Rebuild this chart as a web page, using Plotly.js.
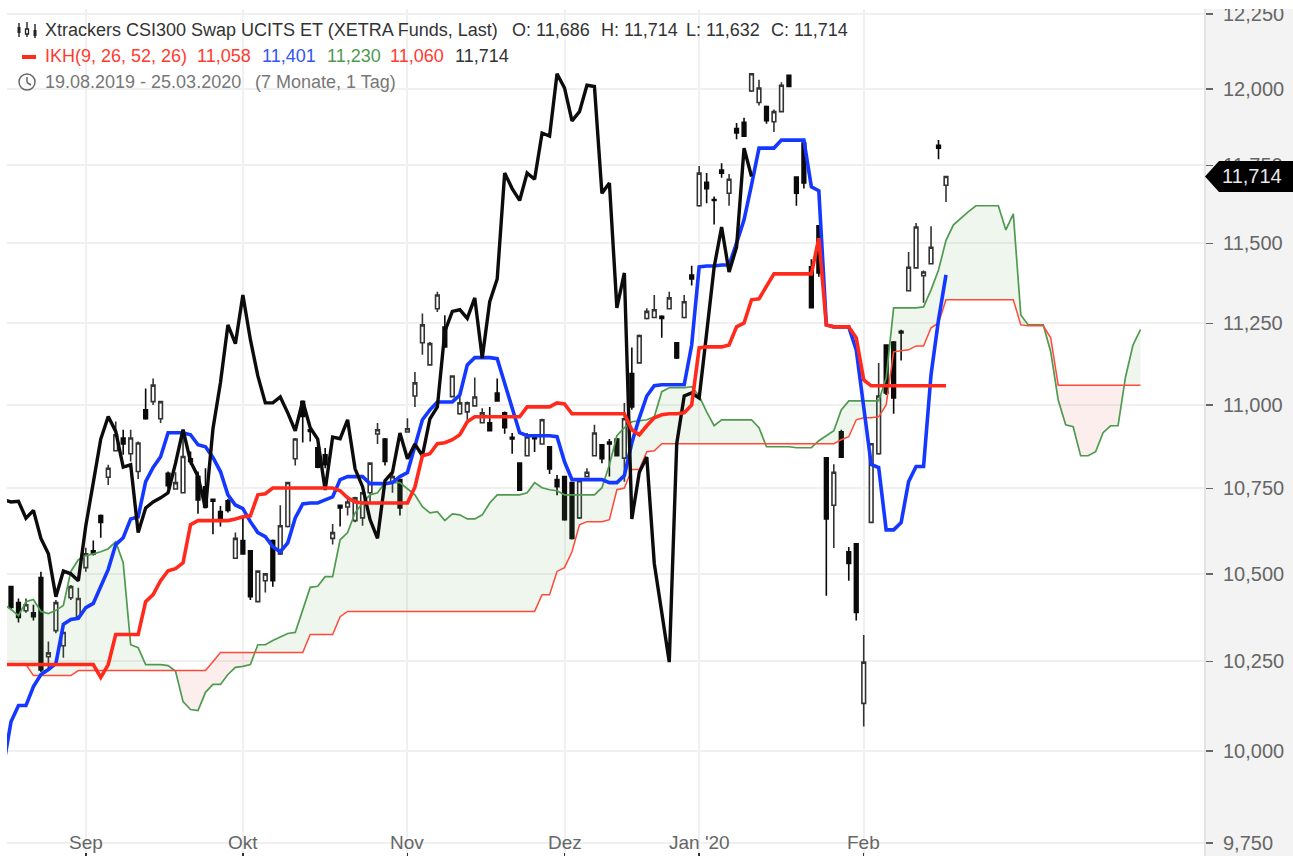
<!DOCTYPE html>
<html><head><meta charset="utf-8">
<script src="https://cdn.plot.ly/plotly-3.0.1.min.js"></script>
<style>html,body{margin:0;padding:0;background:#fff}#c{width:1293px;height:856px}</style>
</head><body><div id="c"></div>
<script>
const tickLabelsX=['Sep','Okt','Nov','Dez',"Jan '20",'Feb'];
const tickPosX=[10,31,53,74,92,114];
const priceTicks=[12250,12000,11750,11500,11250,11000,10750,10500,10250,10000,9750];
const priceLabels=['12,250','12,000','11,750','11,500','11,250','11,000','10,750','10,500','10,250','10,000','9,750'];

const opens=[10463,10417,10394,10388,10489,10263,10337,10294,10431,10377,
10518,10567,10670,10783,10862,10900,10853,10800,10985,11010,
10958,10795,10748,10737,10838,10785,10755,10718,10682,10713,
10545,10597,10567,10420,10480,10597,10558,10638,10838,11010,
10925,10871,10850,10603,10700,10695,10655,10663,10737,10912,
10897,10770,10776,10918,11027,11190,11122,11295,11238,11025,
10973,10979,10997,10946,10946,11036,10976,10902,10825,10847,
10906,10882,10874,10776,10785,10767,10663,10785,10847,10880,
10888,10897,10840,11095,11128,11265,11268,11272,11295,11190,
11268,11400,11620,11695,11640,11735,11660,11870,11890,11993,
11955,11942,11892,11925,12045,11712,11822,11426,11556,10841,
10700,10919,10564,10587,10132,10650,10853,11183,11192,11225,
11351,11423,11398,11436,11815,11686];
const highs=[10465,10429,10429,10411,10506,10306,10425,10335,10468,10460,
10576,10597,10673,10820,10950,10925,10925,10890,11050,11080,
11012,10800,10798,10925,10860,10800,10810,10720,10698,10719,
10620,10668,10567,10510,10502,10600,10700,10770,10900,11012,
10935,10880,10870,10645,10702,10728,10725,10740,10828,10945,
10900,10798,10778,10960,11100,11280,11192,11348,11275,11090,
11030,11010,11083,10990,10994,11080,10980,10915,10825,10915,
10908,10958,10875,10790,10785,10767,10775,10810,10940,10880,
10897,10900,11006,11175,11215,11297,11338,11275,11348,11192,
11338,11430,11748,11725,11650,11757,11722,11888,11905,12052,
12030,11945,11932,12022,12046,11715,11830,11450,11558,10841,
10822,10925,10578,10587,10325,10885,11128,11185,11195,11230,
11473,11565,11415,11555,11832,11714];
const lows=[10395,10360,10388,10366,10220,10226,10330,10260,10425,10372,
10506,10553,10605,10760,10860,10850,10830,10778,10955,11000,
10945,10750,10748,10735,10820,10675,10693,10615,10638,10679,
10545,10558,10425,10418,10446,10463,10555,10635,10818,10887,
10890,10810,10810,10585,10638,10670,10650,10640,10710,10882,
10818,10737,10670,10918,10994,11153,11120,11285,11175,11023,
10970,10955,10997,10945,10922,11012,10913,10853,10742,10845,
10858,10880,10793,10730,10655,10600,10660,10785,10845,10825,
10785,10845,10770,10985,11125,11262,11268,11205,11295,11140,
11265,11368,11617,11628,11560,11710,11620,11835,11843,11990,
11945,11885,11858,11923,12007,11620,11675,11296,11395,10437,
10575,10840,10480,10366,10068,10648,10850,11030,10973,11135,
11350,11422,11314,11434,11770,11632];
const closes=[10403,10375,10411,10377,10226,10274,10417,10332,10463,10429,
10558,10558,10650,10810,10910,10882,10900,10885,10958,11060,
11010,10758,10767,10845,10830,10716,10695,10712,10662,10685,
10603,10558,10434,10508,10500,10480,10640,10767,10897,10965,
10920,10813,10820,10620,10692,10710,10722,10737,10825,10925,
10830,10785,10692,10928,11067,11245,11187,11338,11177,11088,
11006,11006,11024,10976,10922,11012,10931,10897,10745,10903,
10898,10955,10808,10755,10658,10603,10773,10798,10915,10838,
10882,10847,10958,10994,11212,11287,11292,11265,11329,11143,
11317,11388,11725,11675,11637,11725,11705,11855,11845,12050,
12003,11895,11925,12012,12008,11660,11693,11298,11407,10660,
10798,10843,10530,10389,10248,10883,11027,11036,11021,11220,
11425,11552,11410,11488,11806,11714];

// Lagging span, first value belongs to slot -1
const chikou=[10716,10710,10712,10662,10685,10603,10558,10434,10508,10500,10480,
10640,10767,10897,10965,10920,10813,10820,10620,10692,10710,
10722,10737,10825,10925,10830,10785,10692,10928,11067,11245,
11187,11338,11200,11088,11006,11006,11024,10976,10922,11012,
10931,10897,10745,10903,10898,10955,10808,10755,10658,10603,
10773,10798,10915,10838,10882,10847,10958,10994,11225,11287,
11292,11265,11329,11143,11317,11388,11725,11675,11637,11725,
11705,11855,11845,12050,12003,11895,11925,12012,12008,11660,
11693,11298,11407,10660,10798,10843,10530,10389,10248,10883,
11027,11036,11021,11220,11425,11552,11410,11488,11806,11714];
const tenkan=[9961,
10081,10126,10126,10179,10213,10227,10244,10355,10369,10372,
10403,10415,10461,10513,10585,10605,10660,10666,10770,10812,
10844,10916,10916,10916,10910,10880,10874,10842,10800,10731,
10701,10690,10652,10620,10608,10579,10564,10590,10663,10704,
10707,10707,10716,10725,10776,10785,10785,10785,10764,10764,
10764,10767,10785,10797,10880,10955,10985,11009,11009,11009,
11030,11122,11144,11144,11144,11141,11066,10991,10916,10907,
10907,10907,10907,10904,10829,10776,10776,10776,10776,10776,
10767,10767,10788,10886,10961,11027,11058,11061,11061,11061,
11061,11183,11426,11429,11429,11432,11432,11501,11575,11687,
11806,11806,11806,11832,11832,11832,11832,11681,11668,11245,
11239,11239,11239,11168,10985,10821,10812,10628,10628,10649,
10770,10815,10815,11092,11261,11401];
const kijun=[10241,
10241,10241,10241,10241,10241,10241,10241,10241,10241,10241,
10241,10241,10205,10241,10326,10326,10326,10326,10420,10440,
10480,10509,10515,10532,10643,10655,10655,10655,10655,10655,
10660,10666,10669,10731,10734,10751,10751,10751,10751,10751,
10751,10751,10751,10751,10743,10722,10710,10707,10707,10707,
10707,10707,10707,10707,10754,10847,10853,10883,10886,10895,
10910,10949,10964,10964,10964,10964,10964,10964,10964,10994,
10994,10994,10994,11006,11003,10973,10973,10973,10973,10973,
10973,10973,10973,10925,10910,10937,10961,10970,10973,10973,
10976,11000,11174,11177,11177,11177,11183,11239,11251,11323,
11326,11363,11404,11404,11404,11404,11404,11404,11517,11245,
11239,11239,11239,11205,11076,11058,11058,11058,11058,11058,
11058,11058,11058,11058,11058,11058];
const spanA=[10412,
10398,10380,10420,10426,10392,10386,10395,10409,10507,10541,
10553,10558,10564,10573,10593,10532,10297,10289,10241,10241,
10241,10238,10222,10137,10115,10112,10163,10185,10185,10213,
10233,10236,10241,10297,10297,10309,10318,10329,10332,10398,
10461,10464,10492,10492,10599,10620,10678,10707,10731,10737,
10767,10767,10767,10749,10731,10696,10678,10681,10655,10675,
10672,10660,10660,10672,10707,10731,10731,10731,10731,10737,
10767,10752,10746,10743,10731,10731,10731,10731,10731,10752,
10820,10907,10931,10949,10952,10955,10964,11040,11052,11052,
11052,11055,11027,10979,10937,10955,10955,10955,10955,10955,
10931,10874,10874,10874,10874,10871,10871,10871,10892,10907,
10922,10985,11012,11012,11012,11012,11012,11082,11298,11298,
11298,11298,11301,11354,11416,11510,11559,11581,11601,11620,
11620,11620,11620,11543,11594,11276,11245,11245,11245,11162,
11015,10940,10934,10847,10847,10859,10916,10937,10937,11085,
11183,11230];
const spanB=[10241,
10241,10241,10241,10210,10210,10210,10210,10210,10210,10224,
10224,10224,10224,10224,10224,10224,10224,10224,10224,10224,
10224,10224,10224,10224,10224,10224,10224,10249,10275,10275,
10275,10275,10275,10275,10275,10275,10275,10275,10275,10275,
10326,10326,10326,10326,10377,10392,10392,10392,10392,10392,
10392,10392,10392,10392,10392,10392,10392,10392,10392,10392,
10392,10392,10392,10392,10392,10392,10392,10392,10392,10392,
10392,10440,10440,10507,10518,10564,10643,10652,10652,10652,
10658,10746,10751,10806,10806,10859,10862,10883,10883,10883,
10883,10883,10883,10883,10883,10883,10883,10883,10883,10883,
10883,10883,10883,10883,10883,10883,10883,10883,10883,10883,
10883,10895,10904,10955,10961,10961,10964,11000,11162,11165,
11168,11180,11180,11236,11251,11323,11323,11323,11323,11323,
11323,11323,11323,11323,11323,11245,11242,11242,11242,11205,
11060,11060,11060,11060,11060,11060,11060,11060,11060,11060,
11060,11060];

const slots=(start,n)=>Array.from({length:n},(_,k)=>start+k);
const PW=1198, PH=856, L=7;
const yTop=4.08981, yBot=3.98745;
const xLo=-0.535, xHi=xLo+PW/7.48;
const X=p=>(p-L)/PW, Y=p=>1-p/PH;
const Yv=v=>(Math.log10(v)-yBot)/(yTop-yBot);

// cloud: one filled polygon per stretch in which one span stays on top
function cloud(){
  const out=[], n=spanA.length;
  let xs=[], up=[], dn=[], sign=null;
  const flush=()=>{ if(xs.length>1){ out.push({type:'scatter',mode:'none',hoverinfo:'skip',showlegend:false,fill:'toself',
    fillcolor:sign>0?'rgba(90,165,75,0.10)':'rgba(225,90,70,0.10)',
    x:xs.concat(xs.slice().reverse()), y:up.concat(dn.slice().reverse())}); } };
  for(let k=0;k<n;k++){
    const d=spanA[k]-spanB[k], s=d>=0?1:-1;
    if(sign!==null && s!==sign){
      const pd=spanA[k-1]-spanB[k-1], t=pd/(pd-d), cx=k-2+t, cy=spanA[k-1]+t*(spanA[k]-spanA[k-1]);
      xs.push(cx);up.push(cy);dn.push(cy);flush();
      xs=[cx];up=[cy];dn=[cy];
    }
    sign=s; xs.push(k-1);up.push(spanA[k]);dn.push(spanB[k]);
  }
  flush(); return out;
}
const line=(x,y,color,width)=>({type:'scatter',mode:'lines',x,y,hoverinfo:'skip',showlegend:false,line:{color,width,shape:'linear'}});

const traces=[
 {type:'candlestick',x:slots(0,opens.length),open:opens,high:highs,low:lows,close:closes,hoverinfo:'skip',showlegend:false,
  whiskerwidth:0,
  increasing:{line:{color:'#333',width:1.6},fillcolor:'#ffffff'},
  decreasing:{line:{color:'#0a0a0a',width:1.6},fillcolor:'#0a0a0a'}},
 ...cloud(),
 line(slots(-1,spanA.length),spanA,'#4f9a4f',1.7),
 line(slots(-1,spanB.length),spanB,'#ff4a3a',1.5),
 line(slots(-1,tenkan.length),tenkan,'#1538ff',3.6),
 line(slots(-1,chikou.length),chikou,'#0c0c0c',3.4),
 line(slots(-1,kijun.length),kijun,'#ff2a1c',3.6)
];

const FONT='"Liberation Sans", Arial, sans-serif';
const txt=(x,y,text,color,size)=>({xref:'paper',yref:'paper',x:X(x-2),y:Y(y),text,showarrow:false,xanchor:'left',yanchor:'middle',font:{family:FONT,size:size||18,color}});
const rule=(x0,y0,x1,y1,color,w)=>({type:'line',xref:'paper',yref:'paper',x0:X(x0),y0:Y(y0),x1:X(x1),y1:Y(y1),line:{color,width:w},layer:'above'});
const box=(x0,y0,x1,y1,fill,lc,w,layer)=>({type:'rect',xref:'paper',yref:'paper',x0:X(x0),y0:Y(y0),x1:X(x1),y1:Y(y1),fillcolor:fill,line:{color:lc||fill,width:w===undefined?0:w},layer:layer||'above'});

const tagY=Yv(closes[closes.length-1]);
const dpx=p=>p/PH;
const tagPath=`M ${X(1205)} ${tagY} L ${X(1219)} ${tagY+dpx(15.5)} L ${X(1293)} ${tagY+dpx(15.5)} L ${X(1293)} ${tagY-dpx(15.5)} L ${X(1219)} ${tagY-dpx(15.5)} Z`;

const shapes=[
 box(1205,9,1293,856,'#f3f3f3',null,0,'below'),
 box(7,830,1205,856,'#ffffff',null,0,'between'),
 {type:'line',xref:'paper',yref:'paper',x0:0,x1:1,y0:Yv(priceTicks[priceTicks.length-1]),y1:Yv(priceTicks[priceTicks.length-1]),line:{color:'#f0f0f0',width:2},layer:'between'},
 rule(1205,9,1205,856,'#e4e4e4',2),
 box(0,0,1293,9,'#ffffff'),
 box(0,0,7,856,'#ffffff'),
 {type:'path',xref:'paper',yref:'paper',path:tagPath,fillcolor:'#000',line:{width:0},layer:'above'},
 // legend markers
 rule(19,23,19,37,'#222',1.4),rule(27,22,27,37,'#222',1.4),rule(35,24,35,38,'#222',1.4),
 box(17.5,27,20.5,33,'#222'),box(25.5,29,28.5,34,'#fff','#222',1.3),box(33.5,30,36.5,36,'#222'),
 box(22,55,36,59,'#ff2a1c'),
 {type:'circle',xref:'paper',yref:'paper',x0:X(19),y0:Y(74),x1:X(35),y1:Y(90),line:{color:'#666',width:1.5},fillcolor:'rgba(0,0,0,0)',layer:'above'},
 rule(27,77,27,82.5,'#666',1.5),rule(27,82.5,31,85,'#666',1.5)
];

const annotations=[
 txt(45,30,'Xtrackers CSI300 Swap UCITS ET (XETRA Funds, Last)','#333'),
 txt(512,30,'O: 11,686','#333'),txt(601,30,'H: 11,714','#333'),txt(686,30,'L: 11,632','#333'),txt(771,30,'C: 11,714','#333'),
 txt(45,56,'IKH(9, 26, 52, 26)','#ff3b30'),txt(197,56,'11,058','#ff3b30'),txt(262,56,'11,401','#3454f5'),txt(327,56,'11,230','#4f9a4f'),txt(390,56,'11,060','#ff3b30'),txt(455,56,'11,714','#333'),
 txt(45,82,'19.08.2019 - 25.03.2020','#777'),txt(255,82,'(7 Monate, 1 Tag)','#777'),
 {xref:'paper',yref:'paper',x:X(1220),y:tagY,text:'11,714',showarrow:false,xanchor:'left',yanchor:'middle',font:{family:FONT,size:20,color:'#e6e6e6'}},
 ...tickLabelsX.map((t,k)=>({xref:'x',yref:'paper',x:tickPosX[k],y:Y(842),text:t,showarrow:false,xanchor:'center',yanchor:'middle',font:{family:FONT,size:19,color:'#666'}}))
];

const layout={
 width:1293,height:856,margin:{l:L,r:88,t:0,b:0,autoexpand:false},
 paper_bgcolor:'#ffffff',plot_bgcolor:'#ffffff',showlegend:false,hovermode:false,
 xaxis:{type:'linear',range:[xLo,xHi],tickmode:'array',tickvals:tickPosX,ticktext:tickLabelsX,showticklabels:false,
   ticks:'inside',ticklen:3,tickcolor:'#333',tickwidth:1.5,
   showgrid:true,gridcolor:'#f0f0f0',gridwidth:2,zeroline:false,showline:false,
   rangeslider:{visible:false},fixedrange:true},
 yaxis:{type:'log',side:'right',range:[yBot,yTop],tickmode:'array',tickvals:priceTicks,ticktext:priceLabels,
   ticks:'outside',ticklen:7,tickcolor:'#666',tickwidth:1.5,ticklabelstandoff:6,
   tickfont:{family:FONT,size:20,color:'#666'},showgrid:true,gridcolor:'#f0f0f0',gridwidth:2,zeroline:false,showline:false,fixedrange:true},
 shapes,annotations
};
Plotly.newPlot('c',traces,layout,{displayModeBar:false,staticPlot:true});
</script></body></html>
